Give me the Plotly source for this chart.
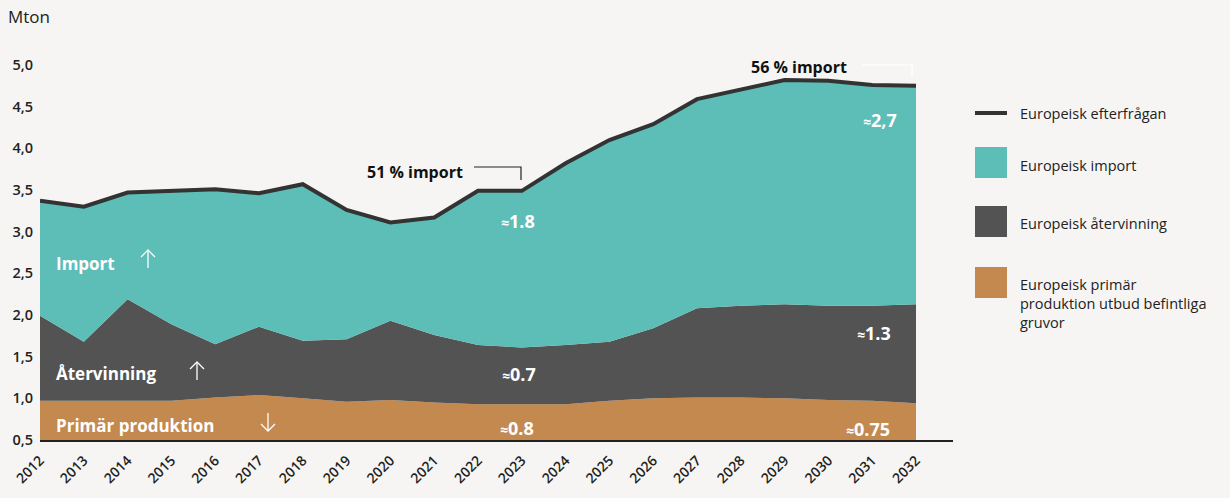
import plotly.graph_objects as go

years = list(range(2012, 2033))
year_labels = [str(y) for y in years]

primary = [0.97, 0.97, 0.97, 0.97, 1.01, 1.04, 1.00, 0.96, 0.98, 0.95, 0.93, 0.93,
           0.93, 0.97, 1.00, 1.01, 1.01, 1.00, 0.98, 0.97, 0.94]
recycling = [1.02, 0.71, 1.22, 0.92, 0.64, 0.82, 0.69, 0.75, 0.95, 0.81, 0.71, 0.68,
             0.71, 0.71, 0.84, 1.07, 1.10, 1.13, 1.13, 1.14, 1.19]
demand = [3.37, 3.30, 3.47, 3.49, 3.51, 3.46, 3.57, 3.26, 3.11, 3.17, 3.49, 3.49,
          3.82, 4.10, 4.29, 4.59, 4.71, 4.82, 4.81, 4.76, 4.75]
imports = [round(d - p - r, 3) for d, p, r in zip(demand, primary, recycling)]

y_ticks = [0.5, 1.0, 1.5, 2.0, 2.5, 3.0, 3.5, 4.0, 4.5, 5.0]
y_tick_labels = ["0,5", "1,0", "1,5", "2,0", "2,5", "3,0", "3,5", "4,0", "4,5", "5,0"]

legend_labels = ["Europeisk efterfrågan", "Europeisk import", "Europeisk återvinning",
                 "Europeisk primär<br>produktion utbud befintliga<br>gruvor"]

C_TEAL = "#5dbdb7"
C_GREY = "#535353"
C_BROWN = "#c4894f"
C_LINE = "#333333"
BG = "#f6f5f3"
FONT = "Open Sans"

W, H = 1230, 498
L, R, T, B = 40, 277, 40, 58
PW, PH = W - L - R, H - T - B


def px(x):
    return (x - L) / PW


def py(y):
    return (H - B - y) / PH


fig = go.Figure()
fig.add_trace(go.Scatter(x=years, y=primary, stackgroup="s", mode="none",
                         fillcolor=C_BROWN, name=legend_labels[3], showlegend=False))
fig.add_trace(go.Scatter(x=years, y=recycling, stackgroup="s", mode="none",
                         fillcolor=C_GREY, name=legend_labels[2], showlegend=False))
fig.add_trace(go.Scatter(x=years, y=imports, stackgroup="s", mode="none",
                         fillcolor=C_TEAL, name=legend_labels[1], showlegend=False))
fig.add_trace(go.Scatter(x=years, y=demand, mode="lines",
                         line=dict(color=C_LINE, width=4), name=legend_labels[0],
                         showlegend=False))

shapes = []
annotations = []

# Legend (manual)
shapes.append(dict(type="line", xref="paper", yref="paper", x0=px(975), x1=px(1007),
                   y0=py(113), y1=py(113), line=dict(color=C_LINE, width=4)))
for (top, col) in [(147, C_TEAL), (206, C_GREY), (267, C_BROWN)]:
    shapes.append(dict(type="rect", xref="paper", yref="paper", x0=px(975), x1=px(1007),
                       y0=py(top + 31), y1=py(top), fillcolor=col, line=dict(width=0)))
for lab, yy in zip(legend_labels, [113, 165, 223, 304]):
    annotations.append(dict(xref="paper", yref="paper", x=px(1018), y=py(yy), text=lab,
                            showarrow=False, xanchor="left", yanchor="middle", align="left",
                            font=dict(family=FONT, size=14.5, color="#222222")))

# Brackets
shapes.append(dict(type="path", xref="paper", yref="paper",
                   path=f"M {px(474)} {py(167)} L {px(521)} {py(167)} L {px(521)} {py(180)}",
                   line=dict(color="#222222", width=1.2)))
shapes.append(dict(type="path", xref="paper", yref="paper",
                   path=f"M {px(862)} {py(65)} L {px(912)} {py(65)} L {px(912)} {py(77)}",
                   line=dict(color="#ffffff", width=1.2)))

# Arrows
def arrow(x, y0, y1, up=True):
    tip = y0 if up else y1
    d = 7 if up else -7
    shapes.append(dict(type="path", xref="paper", yref="paper",
                       path=f"M {px(x)} {py(y0)} L {px(x)} {py(y1)}",
                       line=dict(color="white", width=1.3)))
    shapes.append(dict(type="path", xref="paper", yref="paper",
                       path=f"M {px(x-7)} {py(tip+d)} L {px(x)} {py(tip)} L {px(x+7)} {py(tip+d)}",
                       line=dict(color="white", width=1.3)))

arrow(148, 250, 268, True)
arrow(197, 362, 380, True)
arrow(268, 413, 431, False)

# Text labels
def label(text, x, y, anchor="left", size=17, color="white", weight=700):
    annotations.append(dict(xref="paper", yref="paper", x=px(x), y=py(y), text=text,
                            showarrow=False, xanchor=anchor, yanchor="middle",
                            font=dict(family=FONT, size=size, color=color, weight=weight)))

label("Import", 54, 263, size=17)
label("Återvinning", 54, 373, size=17)
label("Primär produktion", 54, 425, size=17)
approx = "<span style='font-size:14px'>≈</span>"
label(approx + "1.8", 537, 221, "right", 18)
label(approx + "0.7", 538, 374, "right", 18)
label(approx + "0.8", 536, 428, "right", 18)
label(approx + "2,7", 899, 120, "right", 18)
label(approx + "1.3", 893, 333, "right", 18)
label(approx + "0.75", 892, 429, "right", 18)
label("51 % import", 365, 172, "left", 16, "#111111")
label("56 % import", 749, 67, "left", 16, "#111111")

annotations.append(dict(xref="paper", yref="paper", x=px(6), y=py(17), text="Mton",
                        showarrow=False, xanchor="left", yanchor="middle",
                        font=dict(family=FONT, size=17, color="#222222")))

fig.update_layout(
    width=W, height=H,
    margin=dict(l=L, r=R, t=T, b=B),
    paper_bgcolor=BG, plot_bgcolor=BG,
    showlegend=False,
    shapes=shapes, annotations=annotations,
    xaxis=dict(range=[2012, 2012 + (953 - 40) / 43.8], tickmode="array",
               tickvals=years, ticktext=year_labels, tickangle=-45, automargin=False,
               showgrid=False, zeroline=False, showline=True, linecolor="#222222",
               linewidth=1.5, ticks="", ticklabelstandoff=5,
               tickfont=dict(family=FONT, size=14, color="#222222", weight=600)),
    yaxis=dict(range=[0.5, 5.3], tickmode="array", tickvals=y_ticks, ticktext=y_tick_labels,
               showgrid=False, zeroline=False, showline=False, ticks="", automargin=False,
               ticklabelstandoff=6,
               tickfont=dict(family=FONT, size=14.5, color="#222222", weight=600)),
)

fig.write_html("out.html", config={"displayModeBar": False},
               post_script="document.body.style.margin='0';document.body.style.background='#f6f5f3';")
